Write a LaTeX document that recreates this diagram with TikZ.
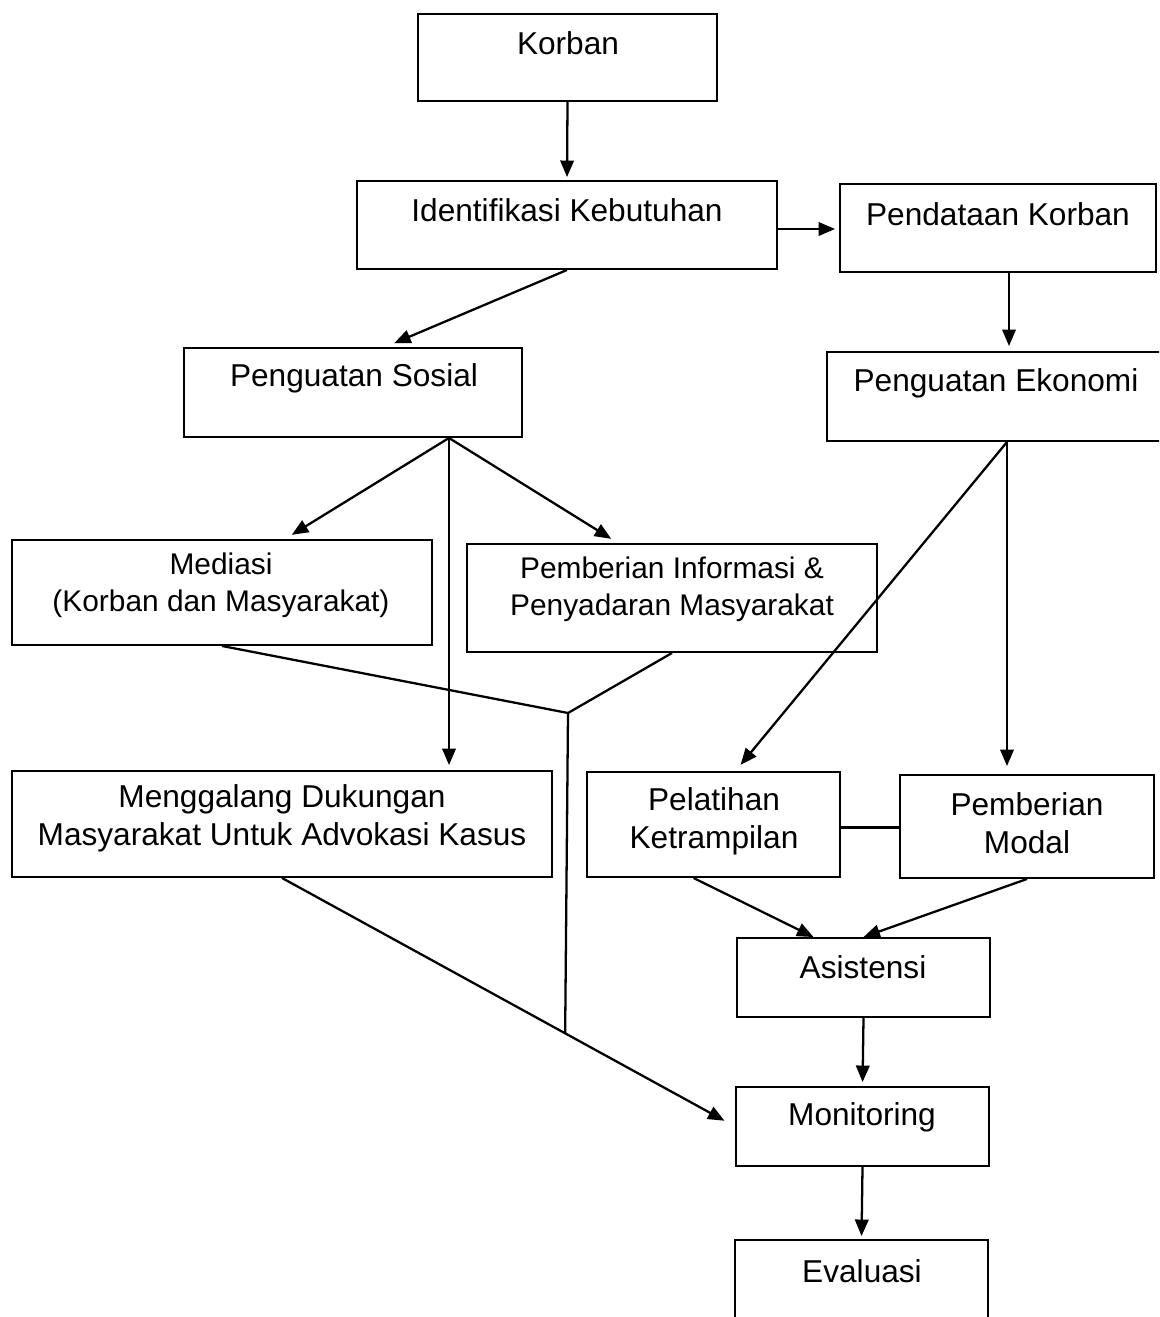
\documentclass[tikz,border=0pt]{standalone}
\usepackage{fontspec}
\setmainfont{Liberation Sans}
\usetikzlibrary{positioning}
\usetikzlibrary{arrows.meta}
\usetikzlibrary{fit}

\begin{document}
\begin{tikzpicture}[x=0.02cm, y=-0.02cm,
    box/.style={draw, rectangle, line width=1.1pt, inner sep=0pt},
    txt/.style={align=center, inner sep=0pt, font=\fontsize{18}{21.5}\selectfont},
    small/.style={font=\fontsize{17}{21}\selectfont},
    arr/.style={-{Triangle[length=0.33cm,width=0.27cm]}, line width=1.3pt},
    link/.style={line width=1.3pt}]
    \clip (0,0) rectangle (1159,1317);

    % Boxes
    \node[box, fit={(418,14) (717,101)}] (korban) {};
    \node[box, fit={(357,181) (777,269)}] (ident) {};
    \node[box, fit={(840,184) (1156,272)}] (pendataan) {};
    \node[box, fit={(184,348) (522,437)}] (sosial) {};
    \node[box, fit={(827,352) (1175,441)}] (ekonomi) {};
    \node[box, fit={(12,540) (432,645)}] (mediasi) {};
    \node[box, fit={(467,544) (877,652)}] (info) {};
    \node[box, fit={(12,771) (552,877)}] (menggalang) {};
    \node[box, fit={(587,772) (840,877)}] (pelatihan) {};
    \node[box, fit={(900,775) (1154,878)}] (modal) {};
    \node[box, fit={(737,938) (990,1017)}] (asistensi) {};
    \node[box, fit={(736,1087) (989,1166)}] (monitoring) {};
    \node[box, fit={(735,1240) (988,1340)}] (evaluasi) {};

    % Texts
    \node[txt] (korbanT) at (568,43) {Korban};
    \node[txt] (identT) at (567,210) {Identifikasi Kebutuhan};
    \node[txt] (pendataanT) at (998,214) {Pendataan Korban};
    \node[txt] (sosialT) at (354,378) {Penguatan Sosial};
    \node[txt] (ekonomiT) at (996,383) {Penguatan Ekonomi};
    \node[txt, small] (mediasiT) at (221,585) {Mediasi\\(Korban dan Masyarakat)};
    \node[txt, small] (infoT) at (672,589) {Pemberian Informasi \&\\Penyadaran Masyarakat};
    \node[txt] (menggalangT) at (282,818) {Menggalang Dukungan\\Masyarakat Untuk Advokasi Kasus};
    \node[txt] (pelatihanT) at (714,821) {Pelatihan\\Ketrampilan};
    \node[txt] (modalT) at (1027,823) {Pemberian\\Modal};
    \node[txt] (asistensiT) at (863,967) {Asistensi};
    \node[txt] (monitoringT) at (862,1117) {Monitoring};
    \node[txt] (evaluasiT) at (862,1271) {Evaluasi};

    % Top part
    \draw[arr, shorten >=0.06cm] (korban.south) -- (ident.north);
    \draw[arr, shorten >=0.08cm] ([shift={(0,4)}]ident.east) -- ([shift={(0,1)}]pendataan.west);
    \draw[arr, shorten >=0.2cm] (ident.south) -- ([shift={(32,0)}]sosial.north);
    \draw[arr, shorten >=0.1cm] ([shift={(11,0)}]pendataan.south) -- ([shift={(8,0)}]ekonomi.north);

    % Social branch
    \coordinate (sosout) at ([shift={(96,0)}]sosial.south);
    \draw[arr, shorten >=0.16cm] (sosout) -- ([shift={(63,0)}]mediasi.north);
    \draw[arr, shorten >=0.16cm] (sosout) -- ([shift={(-54,0)}]info.north);
    \draw[arr, shorten >=0.1cm] (sosout) -- ([shift={(167,0)}]menggalang.north);

    % Economic branch
    \coordinate (ekoout) at ([shift={(6,0)}]ekonomi.south);
    \draw[arr, shorten >=0.16cm] (ekoout) -- ([shift={(22,0)}]pelatihan.north);
    \draw[arr, shorten >=0.16cm] (ekoout) -- ([shift={(-20,0)}]modal.north);
    \draw[link] ([shift={(0,3)}]pelatihan.east) -- ([shift={(0,1)}]modal.west);

    % Joining lines
    \coordinate (join) at (568,713);
    \draw[arr, shorten >=0.24cm] (menggalang.south) -- coordinate[pos=0.625] (meet) (monitoring.west);
    \draw[link] (mediasi.south) -- (join) -- (info.south);
    \draw[link] (join) -- (meet);
    \draw[arr] ([shift={(-20,0)}]pelatihan.south) -- ([shift={(-50,0)}]asistensi.north);
    \draw[arr] (modal.south) -- (asistensi.north);

    % Bottom chain
    \draw[arr, shorten >=0.08cm] (asistensi.south) -- (monitoring.north);
    \draw[arr, shorten >=0.06cm] (monitoring.south) -- (evaluasi.north);
\end{tikzpicture}
\end{document}
